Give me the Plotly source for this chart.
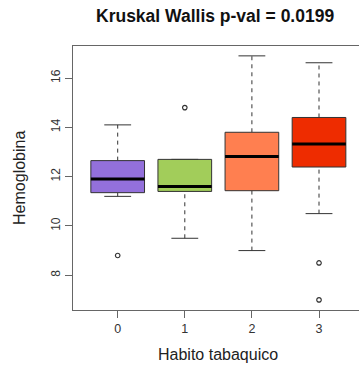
import plotly.graph_objects as go

categories = ["0", "1", "2", "3"]
q1 = [11.35, 11.4, 11.43, 12.39]
median = [11.9, 11.6, 12.82, 13.32]
q3 = [12.65, 12.7, 13.8, 14.4]
lower_whisker = [11.2, 9.5, 9.0, 10.5]
upper_whisker = [14.1, 12.7, 16.9, 16.62]
outliers = [[8.8], [14.8], [], [8.5, 7.0]]
colors = ["#9370DB", "#A2CD5A", "#FF7F50", "#EE2C00"]

fig = go.Figure()
edge = "#333333"
half_box = 0.4
half_staple = 0.2

for i, cat in enumerate(categories):
    x = i
    # whiskers (dashed)
    for lo, hi in [(lower_whisker[i], q1[i]), (q3[i], upper_whisker[i])]:
        if hi > lo:
            fig.add_trace(go.Scatter(x=[x, x], y=[lo, hi], mode="lines",
                                     line=dict(color=edge, width=1, dash="4px,4px"),
                                     hoverinfo="skip", showlegend=False))
    # staples
    for v in [lower_whisker[i], upper_whisker[i]]:
        fig.add_trace(go.Scatter(x=[x - half_staple, x + half_staple], y=[v, v], mode="lines",
                                 line=dict(color=edge, width=1),
                                 hoverinfo="skip", showlegend=False))
    # box
    fig.add_trace(go.Scatter(
        x=[x - half_box, x + half_box, x + half_box, x - half_box, x - half_box],
        y=[q1[i], q1[i], q3[i], q3[i], q1[i]],
        mode="lines", fill="toself", fillcolor=colors[i],
        line=dict(color=edge, width=1), hoverinfo="skip", showlegend=False))
    # median
    fig.add_trace(go.Scatter(x=[x - half_box, x + half_box], y=[median[i], median[i]], mode="lines",
                             line=dict(color="#000000", width=3),
                             hoverinfo="skip", showlegend=False))
    # outliers
    if outliers[i]:
        fig.add_trace(go.Scatter(x=[x] * len(outliers[i]), y=outliers[i], mode="markers",
                                 marker=dict(symbol="circle-open", size=4.5, color=edge,
                                             line=dict(width=1.2)),
                                 hoverinfo="skip", showlegend=False))

font = "Liberation Sans, Arial, sans-serif"
fig.update_layout(
    width=359, height=373,
    margin=dict(l=73, r=0, t=46, b=63, autoexpand=False),
    plot_bgcolor="white", paper_bgcolor="white",
    font=dict(family=font, size=12, color="#333333"),
    xaxis=dict(range=[-0.666, 3.596], tickvals=[0, 1, 2, 3], ticktext=categories,
               showline=True, mirror=True, linecolor="#666666", linewidth=1,
               ticks="outside", ticklen=7, tickcolor="#666666", showgrid=False,
               zeroline=False, automargin=False, tickfont=dict(size=12.5, color="#333333")),
    yaxis=dict(range=[6.59, 17.30], tickvals=[8, 10, 12, 14, 16],
               showline=True, mirror=False, linecolor="#666666", linewidth=1,
               ticks="outside", ticklen=7, tickcolor="#666666", showgrid=False,
               zeroline=False, automargin=False, tickangle=-90,
               tickfont=dict(size=12, color="#333333")),
    annotations=[
        dict(text="<b>Kruskal Wallis p-val = 0.0199</b>", xref="paper", yref="paper",
             x=0.497, y=1.1136, showarrow=False, font=dict(size=17.5, color="#111111"),
             xanchor="center", yanchor="middle"),
        dict(text="Habito tabaquico", xref="paper", yref="paper", x=0.507, y=-0.170,
             showarrow=False, font=dict(size=16, color="#222222"), xanchor="center", yanchor="middle"),
        dict(text="Hemoglobina", xref="paper", yref="paper", x=-0.189, y=0.5, textangle=-90,
             showarrow=False, font=dict(size=16, color="#222222"), xanchor="center", yanchor="middle"),
    ],
)

fig.write_html("out.html", config={"displayModeBar": False},
               post_script="document.body.style.margin='0';")
